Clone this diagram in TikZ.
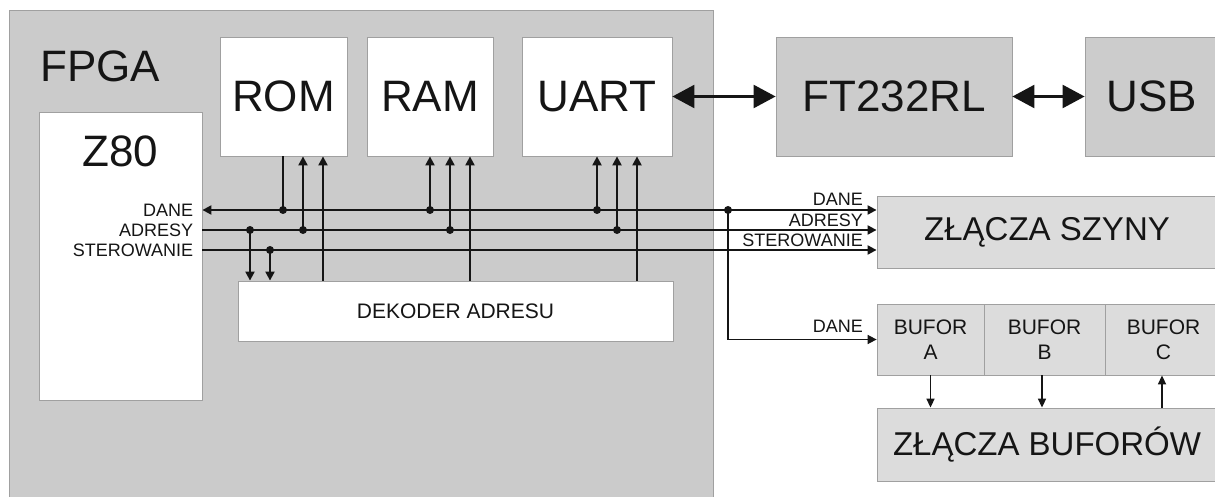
\documentclass[tikz,border=0pt]{standalone}
\usepackage{fontspec}
\setmainfont{Liberation Sans}
\usetikzlibrary{arrows.meta}
\definecolor{fpgagray}{HTML}{CBCBCB}
\definecolor{midgray}{HTML}{CCCCCC}
\definecolor{lightgray}{HTML}{DCDCDC}
\definecolor{edgegray}{HTML}{A0A0A0}
\definecolor{ink}{HTML}{151515}
\begin{document}
\begin{tikzpicture}[x=1pt,y=-1pt,
  blk/.style={draw=edgegray, line width=0.8pt, inner sep=0pt},
  whitebox/.style={blk, fill=white},
  graybox/.style={blk, fill=midgray},
  lightbox/.style={blk, fill=lightgray},
  big/.style={font=\fontsize{44}{48}\selectfont, text=ink},
  mid/.style={font=\fontsize{33}{36}\selectfont, text=ink},
  buf/.style={font=\fontsize{21}{25}\selectfont, text=ink, align=center},
  lbl/.style={font=\fontsize{18}{20}\selectfont, text=ink, inner sep=0pt},
  bus/.style={draw=ink, line width=2.1pt},
  tip/.style={-{Triangle[length=9pt,width=9pt]}},
  dtip/.style={{Triangle[length=9pt,width=9pt]}-{Triangle[length=9pt,width=9pt]}},
  btip/.style={draw=ink, line width=2.4pt, {Triangle[length=22pt,width=23pt]}-{Triangle[length=22pt,width=23pt]}},
  thin/.style={draw=ink, line width=1.6pt, -{Triangle[length=9pt,width=8pt]}},
  dot/.style={fill=ink}
]
\clip (0,0) rectangle (1215,497);
\fill[white] (0,0) rectangle (1215,497);

% FPGA area
\node[blk, fill=fpgagray, minimum width=704pt, minimum height=530pt] (fpga) at (361,275) {};
\node[big, anchor=base west, inner sep=0pt] (fpgat) at (40,82) {FPGA};

% internal blocks
\node[whitebox, minimum width=163pt, minimum height=288pt] (z80) at (120.5,256) {};
\node[big, anchor=base, inner sep=0pt] (z80t) at (120.5,167) {Z80};
\node[whitebox, big, minimum width=127pt, minimum height=119pt] (rom) at (283.5,96.5) {ROM};
\node[whitebox, big, minimum width=126pt, minimum height=119pt] (ram) at (430,96.5) {RAM};
\node[whitebox, big, minimum width=150pt, minimum height=119pt] (uart) at (597,96.5) {UART};
\node[whitebox, font=\fontsize{21}{23}\selectfont, text=ink, minimum width=435pt, minimum height=60pt] (dek) at (455.5,311) {DEKODER ADRESU};

% external blocks
\node[graybox, big, minimum width=236pt, minimum height=119pt] (ft) at (894,96.5) {FT232RL};
\node[graybox, big, minimum width=134pt, minimum height=119pt] (usb) at (1152,96.5) {USB};
\node[lightbox, mid, minimum width=340pt, minimum height=72pt] (zs) at (1047,232) {ZŁĄCZA SZYNY};
\node[lightbox, buf, minimum width=107pt, minimum height=71pt] (bufa) at (930.5,339.5) {BUFOR\\A};
\node[lightbox, buf, minimum width=121pt, minimum height=71pt] (bufb) at (1044.5,339.5) {BUFOR\\B};
\node[lightbox, buf, minimum width=117pt, minimum height=71pt] (bufc) at (1163.5,339.5) {BUFOR\\C};
\node[lightbox, mid, minimum width=340pt, minimum height=73pt] (zb) at (1047,444.5) {ZŁĄCZA BUFORÓW};

% big bidirectional arrows
\draw[btip] (uart.east) -- (ft.west);
\draw[btip] (ft.east) -- (usb.west);

% bus coordinates
\coordinate (dl) at (z80.east |- 0,210);
\coordinate (al) at (z80.east |- 0,230);
\coordinate (sl) at (z80.east |- 0,250);
\coordinate (dr) at (zs.west |- 0,210);
\coordinate (ar) at (zs.west |- 0,230);
\coordinate (sr) at (zs.west |- 0,250);

\draw[bus, dtip] (dl) -- (dr);
\draw[bus, tip] (al) -- (ar);
\draw[bus, tip] (sl) -- (sr);

% bus labels on Z80
\node[lbl, anchor=east] (ldane) at ([xshift=-9pt]dl) {DANE};
\node[lbl, anchor=east] (ladr) at ([xshift=-9pt]al) {ADRESY};
\node[lbl, anchor=east] (lster) at ([xshift=-9pt]sl) {STEROWANIE};

% bus labels at connector
\node[lbl, anchor=base east] (rdane) at (863,206) {DANE};
\node[lbl, anchor=base east] (radr) at (863,226) {ADRESY};
\node[lbl, anchor=base east] (rster) at (863,246) {STEROWANIE};

% junction points
\coordinate (j1) at (250,230);
\coordinate (j2) at (270,250);
\coordinate (r1) at (283,210);
\coordinate (r2) at (303,230);
\coordinate (m1) at (430,210);
\coordinate (m2) at (450,230);
\coordinate (u1) at (597,210);
\coordinate (u2) at (617,230);
\coordinate (jd) at (728,210);

% Z80 side to decoder
\draw[bus, tip] (j1) -- (j1 |- dek.north);
\draw[bus, tip] (j2) -- (j2 |- dek.north);
% ROM
\draw[bus] (r1) -- (r1 |- rom.south);
\draw[bus, tip] (r2) -- (r2 |- rom.south);
\draw[bus, tip] (dek.north -| 323,0) -- (rom.south -| 323,0);
% RAM
\draw[bus, tip] (m1) -- (m1 |- ram.south);
\draw[bus, tip] (m2) -- (m2 |- ram.south);
\draw[bus, tip] (dek.north -| 470,0) -- (ram.south -| 470,0);
% UART
\draw[bus, tip] (u1) -- (u1 |- uart.south);
\draw[bus, tip] (u2) -- (u2 |- uart.south);
\draw[bus, tip] (dek.north -| 637,0) -- (uart.south -| 637,0);
% data to buffers
\draw[thin, -{Triangle[length=9pt,width=9pt]}] (jd) |- (bufa.west);
\node[lbl, anchor=base east] (bdane) at (863,332) {DANE};

\foreach \p in {j1,j2,r1,r2,m1,m2,u1,u2,jd} \fill[dot] (\p) circle[radius=4pt];

% buffers to connectors
\draw[thin] (bufa.south) -- (bufa.south |- zb.north);
\draw[thin] (bufb.south -| 1042,0) -- (zb.north -| 1042,0);
\draw[thin] (zb.north -| 1162,0) -- (bufc.south -| 1162,0);
\end{tikzpicture}
\end{document}
